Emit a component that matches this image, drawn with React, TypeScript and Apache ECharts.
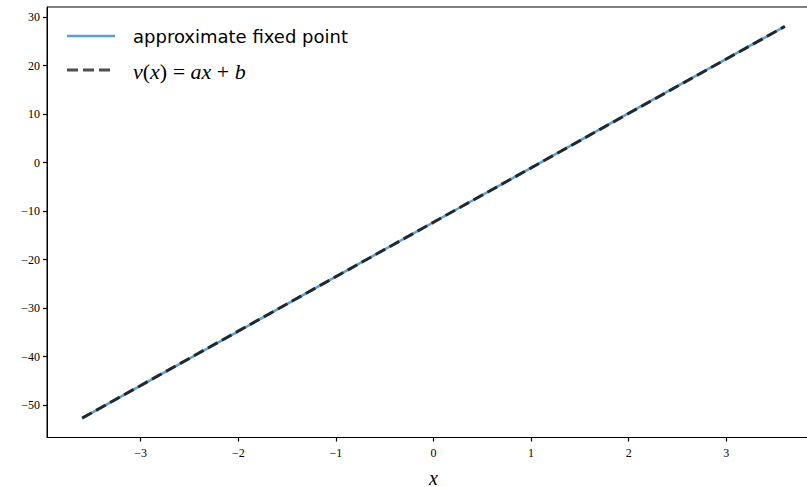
import React, { useEffect, useRef } from "react";
import * as echarts from "echarts";

const fixedX = [-3.6, -3, -2, -1, 0, 1, 2, 3, 3.6];
const fixedY = [-52.7, -46.0, -34.8, -23.5, -12.3, -1.1, 10.2, 21.4, 28.1];
const linearX = [-3.6, 3.6];
const linearY = [-52.7, 28.1];
const xTicks = [-3, -2, -1, 0, 1, 2, 3];
const yTicks = [-50, -40, -30, -20, -10, 0, 10, 20, 30];

const serif = "'Liberation Serif', 'DejaVu Serif', serif";
const fmt = (v: number) => (v < 0 ? "\u2212" + Math.abs(v) : String(v));

export default function App() {
  const ref = useRef<HTMLDivElement>(null);
  useEffect(() => {
    const chart = echarts.init(ref.current!, null, { renderer: "svg" });
    chart.setOption({
      animation: false,
      backgroundColor: "#fff",
      grid: {
        left: 47,
        top: 7,
        width: 773,
        height: 430.5,
        containLabel: false,
        outerBoundsMode: "none",
        show: true,
        borderColor: "#000",
        borderWidth: 1,
        backgroundColor: "transparent",
      },
      xAxis: {
        type: "value",
        min: -3.96,
        max: 3.96,
        name: "x",
        nameLocation: "middle",
        nameGap: 30,
        nameTextStyle: { fontFamily: serif, fontStyle: "italic", fontSize: 20, color: "#000" },
        splitLine: { show: false },
        axisLine: { show: true, onZero: false, lineStyle: { color: "#000", width: 1 } },
        axisTick: { show: true, length: 4, customValues: xTicks, lineStyle: { color: "#000", width: 1.2 } },
        axisLabel: {
          customValues: xTicks,
          formatter: fmt,
          fontFamily: serif,
          fontSize: 12,
          color: "#000",
          margin: 9,
        },
      },
      yAxis: {
        type: "value",
        min: -56.7,
        max: 32.1,
        splitLine: { show: false },
        axisLine: { show: true, onZero: false, lineStyle: { color: "#000", width: 1 } },
        axisTick: { show: true, length: 4, customValues: yTicks, lineStyle: { color: "#000", width: 1.2 } },
        axisLabel: {
          customValues: yTicks,
          formatter: fmt,
          fontFamily: serif,
          fontSize: 12,
          color: "#000",
          margin: 7,
        },
      },
      series: [
        {
          name: "approximate fixed point",
          type: "line",
          data: fixedX.map((x, i) => [x, fixedY[i]]),
          showSymbol: false,
          lineStyle: { color: "#5b9fd6", width: 2.5 },
        },
        {
          name: "v(x) = ax + b",
          type: "line",
          data: linearX.map((x, i) => [x, linearY[i]]),
          showSymbol: false,
          lineStyle: { color: "rgba(20,20,20,0.85)", width: 3, type: [11, 5] },
        },
      ],
      graphic: [
        {
          type: "line",
          shape: { x1: 67, y1: 36, x2: 115, y2: 36 },
          style: { stroke: "#5b9fd6", lineWidth: 2.5 },
        },
        {
          type: "text",
          x: 133,
          y: 36,
          style: {
            text: "approximate fixed point",
            fontFamily: "'DejaVu Sans', sans-serif",
            fontSize: 18,
            fill: "#000",
            verticalAlign: "middle",
          },
        },
        {
          type: "line",
          shape: { x1: 67, y1: 70, x2: 115, y2: 70 },
          style: { stroke: "rgba(20,20,20,0.75)", lineWidth: 3, lineDash: [11, 5] },
        },
        {
          type: "text",
          x: 133,
          y: 71,
          style: {
            text: "{i|v}{r|(}{i|x}{r|) = }{i|ax}{r| + }{i|b}",
            verticalAlign: "middle",
            rich: {
              i: { fontFamily: serif, fontStyle: "italic", fontSize: 22, fill: "#000" },
              r: { fontFamily: serif, fontSize: 22, fill: "#000" },
            },
          },
        },
      ],
    });
    return () => chart.dispose();
  }, []);
  return <div ref={ref} style={{ width: 807, height: 487, position: "absolute", left: 0, top: 0 }} />;
}
